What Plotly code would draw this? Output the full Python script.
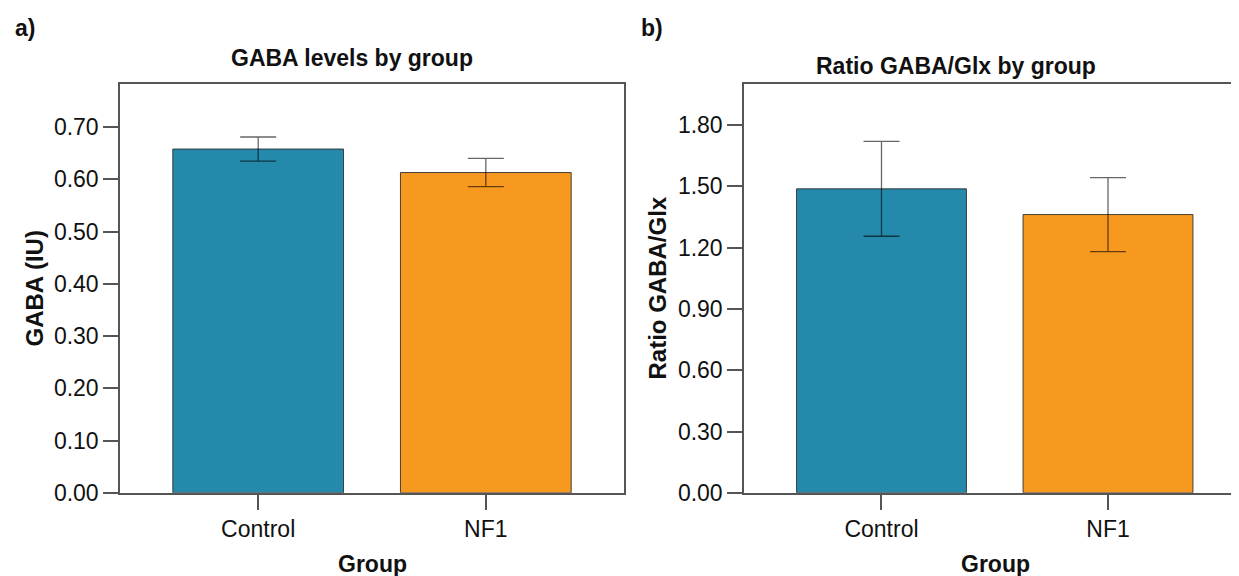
import plotly.graph_objects as go

groups = ["Control", "NF1"]
gaba_mean = [0.658, 0.613]
gaba_err = [0.023, 0.027]
ratio_mean = [1.488, 1.362]
ratio_err = [0.232, 0.181]
bar_colors = ["#2589AC", "#F8991F"]

gaba_ticks = [0.0, 0.1, 0.2, 0.3, 0.4, 0.5, 0.6, 0.7]
ratio_ticks = [0.0, 0.3, 0.6, 0.9, 1.2, 1.5, 1.8]

W, H = 1239, 576
FONT = "Liberation Sans, Arial, sans-serif"

fig = go.Figure()
fig.add_trace(go.Bar(
    x=groups, y=gaba_mean, width=0.75,
    marker=dict(color=bar_colors, line=dict(color="rgba(40,40,40,0.85)", width=1)),
    error_y=dict(type="data", array=gaba_err, visible=True,
                 color="rgba(0,0,0,0.6)", thickness=1.3, width=18),
    xaxis="x", yaxis="y", showlegend=False, hoverinfo="skip"))
fig.add_trace(go.Bar(
    x=groups, y=ratio_mean, width=0.75,
    marker=dict(color=bar_colors, line=dict(color="rgba(40,40,40,0.85)", width=1)),
    error_y=dict(type="data", array=ratio_err, visible=True,
                 color="rgba(0,0,0,0.6)", thickness=1.3, width=18),
    xaxis="x2", yaxis="y2", showlegend=False, hoverinfo="skip"))

ydom = [1 - 496 / H, 1 - 78 / H]
axis_common = dict(showline=True, linecolor="#555", linewidth=1.5, mirror=True,
                   showgrid=False, zeroline=False, ticks="outside", ticklen=15,
                   tickcolor="#555", tickwidth=1.5,
                   tickfont=dict(family=FONT, size=23, color="#111"))

fig.update_layout(
    width=W, height=H, margin=dict(l=0, r=0, t=0, b=0),
    paper_bgcolor="white", plot_bgcolor="white", bargap=0.25,
    xaxis=dict(domain=[112 / W, 616 / W], range=[-0.607, 1.607], anchor="y",
               type="category", **axis_common),
    yaxis=dict(domain=ydom, range=[0, 0.782], anchor="x", tickvals=gaba_ticks,
               tickformat=".2f", ticklabelstandoff=0, **axis_common),
    xaxis2=dict(domain=[736 / W, 1237.5 / W], range=[-0.607, 1.607], anchor="y2",
                type="category", **axis_common),
    yaxis2=dict(domain=ydom, range=[0, 2.0], anchor="x2", tickvals=ratio_ticks,
                tickformat=".2f", ticklabelstandoff=0, **axis_common),
)

def ann(text, x, y, size, bold=True, angle=0):
    fig.add_annotation(text=f"<b>{text}</b>" if bold else text,
                       x=x / W, y=1 - y / H, xref="paper", yref="paper",
                       showarrow=False, textangle=angle,
                       font=dict(family=FONT, size=size, color="#111"),
                       xanchor="center", yanchor="middle")

ann("a)", 17, 20, 23)
ann("b)", 644, 20, 23)
ann("GABA levels by group", 344, 51, 23)
ann("Ratio GABA/Glx by group", 948, 59, 23)
ann("GABA (IU)", 27, 287, 24, angle=-90)
ann("Ratio GABA/Glx", 650, 287, 24, angle=-90)
ann("Group", 364, 569, 23)
ann("Group", 987, 569, 23)

fig.write_html("out.html")
